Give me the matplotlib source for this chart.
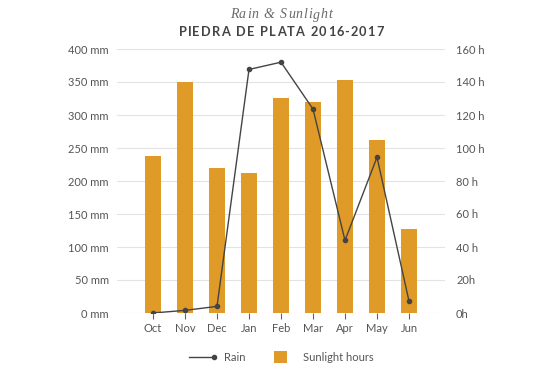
import numpy as np
import matplotlib.pyplot as plt
from matplotlib.lines import Line2D
from matplotlib.patches import Patch, Rectangle
from matplotlib.legend_handler import HandlerBase, HandlerPatch

# ------------------------------
# Data
# ------------------------------
months = ["Oct", "Nov", "Dec", "Jan", "Feb", "Mar", "Apr", "May", "Jun"]
sunlight_hours = [95, 140, 88, 85, 130, 128, 141, 105, 51]
rain_mm = [0, 4, 10, 369, 380, 309, 110, 236, 18]

mm_ticks = [0, 50, 100, 150, 200, 250, 300, 350, 400]
mm_labels = [f"{v} mm" for v in mm_ticks]
h_ticks = [0, 20, 40, 60, 80, 100, 120, 140, 160]
h_labels = ["0h", "20h", "40 h", "60 h", "80 h", "100 h", "120 h", "140 h", "160 h"]

bar_color = "#E09A28"
line_color = "#444444"
text_color = "#555555"
grid_color = "#E3E3E3"

plt.rcParams["font.family"] = ["Lato", "DejaVu Sans"]


# ------------------------------
# Legend handlers
# ------------------------------
class RainHandler(HandlerBase):
    # line with the dot only at its right end
    def create_artists(self, legend, orig_handle, xdescent, ydescent,
                       width, height, fontsize, trans):
        y = height / 2 - ydescent
        x0, x1 = -xdescent, -xdescent + width
        line = Line2D([x0, x1], [y, y], color=line_color, linewidth=1.0,
                      transform=trans)
        dot = Line2D([x1], [y], marker="o", markersize=3, color=line_color,
                     linestyle="None", transform=trans)
        return [line, dot]


def square_patch(legend, orig_handle, xdescent, ydescent, width, height, fontsize):
    s = height
    return Rectangle((-xdescent + (width - s) / 2, -ydescent), s, s)


def spaced_text(fig, cx, cy, s, spacing_px, **kw):
    # draw text one char at a time to get letter spacing
    r = fig.canvas.get_renderer()
    widths = []
    for ch in s:
        t = fig.text(0, 0, ch if ch != " " else "n", **kw)
        w = t.get_window_extent(r).width
        if ch == " ":
            w *= 0.55
        widths.append(w)
        t.remove()
    total = sum(widths) + spacing_px * (len(s) - 1)
    W = fig.bbox.width
    x = cx * W - total / 2
    for ch, w in zip(s, widths):
        if ch != " ":
            fig.text(x / W, cy, ch, ha="left", va="center", **kw)
        x += w + spacing_px


# ------------------------------
# Figure
# ------------------------------
fig = plt.figure(figsize=(5.45, 3.76), dpi=100)
ax_h = fig.add_axes([117 / 545, 1 - 313 / 376, 328 / 545, 264 / 376])
ax_mm = ax_h.twinx()

x = np.arange(len(months))

# bars = sunlight (right axis)
ax_h.bar(x, sunlight_hours, width=0.5, color=bar_color, zorder=2)
ax_h.set_ylim(0, 160)
ax_h.set_xlim(-1.125, len(months) - 1 + 1.125)
ax_h.yaxis.tick_right()
ax_h.yaxis.set_label_position("right")
ax_h.set_yticks(h_ticks)
ax_h.set_yticklabels(h_labels)
ax_h.grid(axis="y", color=grid_color, linewidth=0.8, zorder=0)
ax_h.set_axisbelow(True)

# line = rain (left axis)
ax_mm.plot(x, rain_mm, color=line_color, linewidth=1.0, marker="o",
           markersize=3, zorder=3)
ax_mm.set_ylim(0, 400)
ax_mm.yaxis.tick_left()
ax_mm.yaxis.set_label_position("left")
ax_mm.set_yticks(mm_ticks)
ax_mm.set_yticklabels(mm_labels)

ax_h.set_xticks(x)
ax_h.set_xticklabels(months)

for a in (ax_h, ax_mm):
    for s in a.spines.values():
        s.set_visible(False)

ax_h.tick_params(axis="y", length=0, pad=8, labelsize=8, labelcolor=text_color)
ax_mm.tick_params(axis="y", length=0, pad=6, labelsize=8, labelcolor=text_color)
ax_h.tick_params(axis="x", length=4, width=0.8, color="#666666", pad=3,
                 labelsize=8, labelcolor=text_color)

# ------------------------------
# Titles
# ------------------------------
cx = (117 + 445) / 2 / 545
spaced_text(fig, cx, 1 - 15 / 376, "Rain & Sunlight", 0.8,
            fontsize=10, style="italic", family=["Liberation Serif", "DejaVu Serif"],
            color="#6a6a6a")
spaced_text(fig, cx, 1 - 32 / 376, "PIEDRA DE PLATA 2016-2017", 1.1,
            fontsize=9.2, fontweight="bold", color="#444444")

# ------------------------------
# Legend
# ------------------------------
rain_handle = Line2D([], [], color=line_color)
sun_handle = Patch(facecolor=bar_color, edgecolor="none")
fig.legend([rain_handle, sun_handle], ["Rain", "Sunlight hours"],
           handler_map={Line2D: RainHandler(),
                        Patch: HandlerPatch(patch_func=square_patch)},
           loc="center", bbox_to_anchor=(cx, 1 - 357 / 376), ncol=2,
           frameon=False, fontsize=8, labelcolor=text_color,
           handlelength=2.3, handleheight=1.4, columnspacing=2.0,
           handletextpad=0.85)

fig.savefig("out.png", dpi=100)
